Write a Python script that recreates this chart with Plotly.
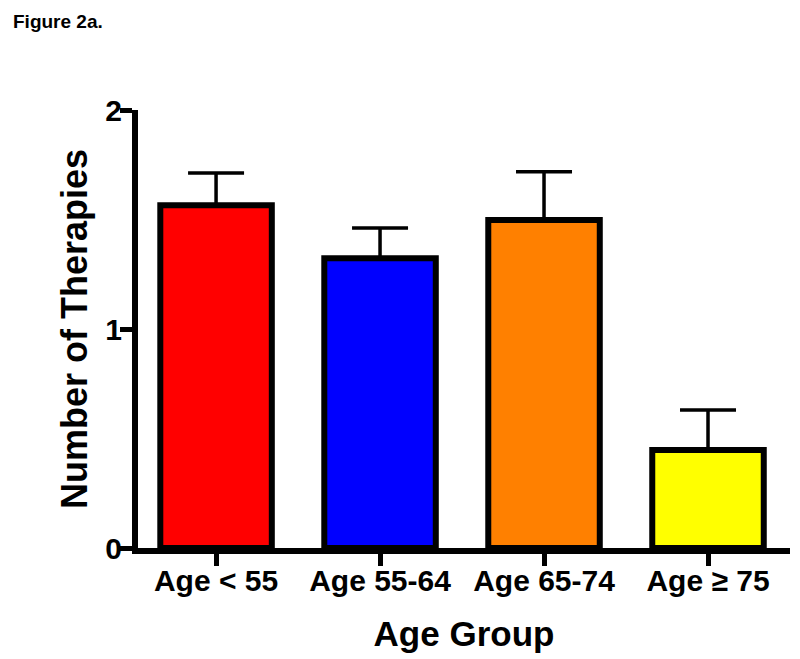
import plotly.graph_objects as go

categories = ["Age < 55", "Age 55-64", "Age 65-74", "Age \u2265 75"]
means = [1.565, 1.323, 1.498, 0.447]
sem_upper = [0.147, 0.138, 0.220, 0.183]
colors = ["#FF0000", "#0000FF", "#FF8000", "#FFFF00"]
y_ticks = [0, 1, 2]

FONT = "Liberation Sans, Arial, sans-serif"

fig = go.Figure()
fig.add_trace(go.Bar(
    x=categories,
    y=means,
    width=0.68,
    marker=dict(color=colors, line=dict(color="black", width=6)),
    error_y=dict(type="data", symmetric=False, array=sem_upper,
                 arrayminus=[0] * len(means), color="black",
                 thickness=3.5, width=28),
))

fig.update_layout(
    width=800, height=659,
    margin=dict(l=130, r=18, t=102, b=119),
    plot_bgcolor="white", paper_bgcolor="white",
    showlegend=False,
    font=dict(family=FONT, color="black"),
    annotations=[dict(
        text="Figure 2a.", xref="paper", yref="paper",
        x=-0.195, y=1.23, xanchor="left", yanchor="top",
        showarrow=False, font=dict(family=FONT, size=19, weight="bold"),
    )],
)
fig.update_xaxes(
    range=[-0.476, 3.5],
    showline=True, linecolor="black", linewidth=6,
    ticks="outside", ticklen=12, tickwidth=5, tickcolor="black",
    ticklabelstandoff=-11,
    tickfont=dict(family=FONT, size=30, weight="bold"),
    title=dict(text="Age Group", font=dict(family=FONT, size=35, weight="bold"),
               standoff=27),
    showgrid=False, zeroline=False,
)
fig.update_yaxes(
    range=[0, 2], tickvals=y_ticks,
    showline=True, linecolor="black", linewidth=6,
    ticks="outside", ticklen=12, tickwidth=5, tickcolor="black",
    ticklabelstandoff=-8,
    tickfont=dict(family=FONT, size=30, weight="bold"),
    title=dict(text="Number of Therapies", font=dict(family=FONT, size=36, weight="bold"),
               standoff=9),
    showgrid=False, zeroline=False,
)

fig.write_html("out.html")
